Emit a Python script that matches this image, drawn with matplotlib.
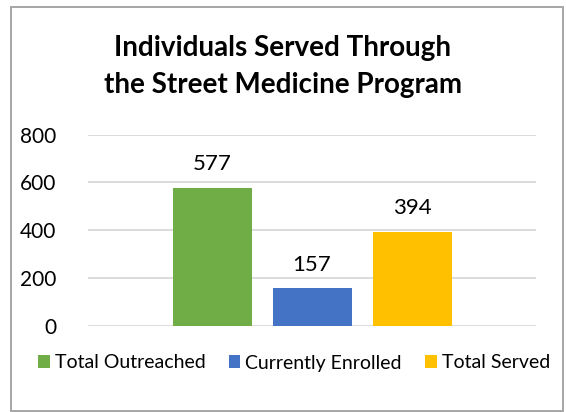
import numpy as np
import matplotlib.pyplot as plt
from matplotlib.patches import Rectangle

# Data
categories = ['Total Outreached', 'Currently Enrolled', 'Total Served']
values = [577, 157, 394]
colors = ['#70AD47', '#4472C4', '#FFC000']
yticks = [0, 200, 400, 600, 800]

plt.rcParams['font.family'] = ['Lato', 'DejaVu Sans']

fig = plt.figure(figsize=(5.66, 4.12), dpi=100)
W, H = 566, 412

# chart border
fig.patches.append(Rectangle((11 / W, 1 / H), 552 / W, 404 / H, transform=fig.transFigure,
                             fill=False, edgecolor='#A6A6A6', linewidth=1.4))

ax = fig.add_axes([88 / W, 1 - 325.7 / H, 448 / W, 191 / H])
x = np.arange(len(categories))
bars = ax.bar(x, values, width=0.79, color=colors, label=categories, zorder=3)
ax.set_xlim(1 - 2.24, 1 + 2.24)
ax.set_ylim(0, 800)
ax.set_yticks(yticks)
ax.set_xticks([])
ax.grid(axis='y', color='#D9D9D9', linewidth=1.3, zorder=0)
for s in ax.spines.values():
    s.set_visible(False)
ax.tick_params(axis='y', length=0, pad=23, labelsize=15, labelcolor='#000000')

for b, v in zip(bars, values):
    ax.annotate(str(v), (b.get_x() + b.get_width() / 2, v), xytext=(0, 17),
                textcoords='offset points', ha='center', va='center', fontsize=16)

fig.text(0.5, 1 - 48 / H, 'Individuals Served Through', ha='center', va='center',
         fontsize=20, fontweight='bold')
fig.text(0.5, 1 - 85 / H, 'the Street Medicine Program', ha='center', va='center',
         fontsize=20, fontweight='bold')

fig.legend(handles=bars, labels=categories, loc='center', bbox_to_anchor=(294 / W, 1 - 363 / H),
           ncol=3, frameon=False, fontsize=14, handlelength=0.6, handleheight=0.6,
           handletextpad=0.25, columnspacing=1.2, borderpad=0)

fig.savefig('out.png', dpi=100)
